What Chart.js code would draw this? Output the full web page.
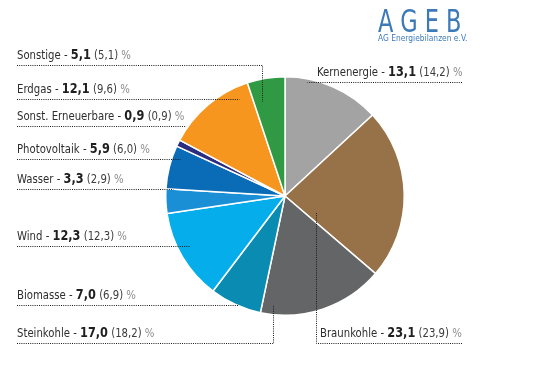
<!DOCTYPE html>
<html>
<head>
<meta charset="utf-8">
<script src="https://cdn.jsdelivr.net/npm/chart.js@4"></script>
<style>
  html, body { margin: 0; padding: 0; background: #fff; }
  #wrap { position: relative; width: 542px; height: 371px; }
</style>
</head>
<body>
<div id="wrap"><canvas id="mainChart" width="542" height="371"></canvas></div>
<script>
// Energieträger, im Uhrzeigersinn ab 12 Uhr
const categories = ['Kernenergie', 'Braunkohle', 'Steinkohle', 'Biomasse', 'Wind',
    'Wasser', 'Photovoltaik', 'Sonst. Erneuerbare', 'Erdgas', 'Sonstige']
const shares = [13.1, 23.1, 17.0, 7.0, 12.3, 3.3, 5.9, 0.9, 12.1, 5.1]
const sharesPrev = [14.2, 23.9, 18.2, 6.9, 12.3, 2.9, 6.0, 0.9, 9.6, 5.1]
const sliceColors = ['#a3a3a4', '#977249', '#646566', '#0a8bb1', '#05aeea',
    '#1a8fd6', '#0a6cb6', '#2b2e80', '#f6961f', '#2f9a43']

// Beschriftungen: x des Textes, y der gepunkteten Linie, Ende der Linie
const labelLayout = {
    'Sonstige':           { x: 17,  y: 65,  toX: 262, toY: 102 },
    'Erdgas':             { x: 17,  y: 99,  toX: 239 },
    'Sonst. Erneuerbare': { x: 17,  y: 126, toX: 186 },
    'Photovoltaik':       { x: 17,  y: 159, toX: 180 },
    'Wasser':             { x: 17,  y: 189, toX: 173 },
    'Wind':               { x: 17,  y: 246, toX: 190 },
    'Biomasse':           { x: 17,  y: 305, toX: 238 },
    'Steinkohle':         { x: 17,  y: 343, toX: 273, toY: 305 },
    'Kernenergie':        { x: 317, y: 82,  fromX: 307, right: 462 },
    'Braunkohle':         { x: 320, y: 343, fromX: 316, right: 462, toY: 213 },
}

const fmt = v => v.toFixed(1).replace('.', ',')
const FONT = '"Liberation Sans Narrow", "DejaVu Sans Condensed", "Arial Narrow", sans-serif'
const SQUEEZE = 0.9

// schmal gestauchter Text, gibt die Breite zurück
function narrowText(ctx, text, x, y, sx) {
    ctx.save()
    ctx.translate(x, y)
    ctx.scale(sx, 1)
    ctx.fillText(text, 0, 0)
    ctx.restore()
    return ctx.measureText(text).width * sx
}

const labelPlugin = {
    id: 'pieLabels',
    afterDraw(chart) {
        const ctx = chart.ctx
        ctx.save()
        ctx.textBaseline = 'alphabetic'
        categories.forEach((name, i) => {
            const l = labelLayout[name]
            const baseY = l.y - 6
            let x = l.x
            const parts = [
                { t: name + ' - ', f: '12.5px ' + FONT, c: '#2e2e2e' },
                { t: fmt(shares[i]), f: 'bold 14px ' + FONT, c: '#1f1f1f' },
                { t: ' (' + fmt(sharesPrev[i]) + ')', f: '12.5px ' + FONT, c: '#3c3c3c' },
                { t: ' %', f: '12.5px ' + FONT, c: '#8c8c8c' },
            ]
            parts.forEach(p => {
                ctx.font = p.f
                ctx.fillStyle = p.c
                x += narrowText(ctx, p.t, x, baseY, SQUEEZE)
            })

            // gepunktete Führungslinie
            ctx.strokeStyle = '#1a1a1a'
            ctx.lineWidth = 1
            ctx.setLineDash([1, 1.2])
            ctx.beginPath()
            if (l.right) {
                ctx.moveTo(l.right, l.y + 0.5)
                ctx.lineTo(l.fromX + 0.5, l.y + 0.5)
                if (l.toY) ctx.lineTo(l.fromX + 0.5, l.toY)
            } else {
                ctx.moveTo(l.x, l.y + 0.5)
                ctx.lineTo(l.toX + 0.5, l.y + 0.5)
                if (l.toY) ctx.lineTo(l.toX + 0.5, l.toY)
            }
            ctx.stroke()
        })
        ctx.setLineDash([])

        // Logo
        ctx.fillStyle = '#3d7ab8'
        ctx.font = '32px ' + FONT
        let lx = 378
        for (const ch of 'AGEB') {
            lx += narrowText(ctx, ch, lx, 32, 0.78) + 7
        }
        ctx.font = '9.5px ' + FONT
        narrowText(ctx, 'AG Energiebilanzen e.V.', 378, 41, 0.88)
        ctx.restore()
    }
}

new Chart(document.getElementById('mainChart'), {
    type: 'pie',
    data: {
        labels: categories,
        datasets: [{
            data: shares,
            backgroundColor: sliceColors,
            borderColor: '#ffffff',
            borderWidth: 1.5,
        }]
    },
    options: {
        responsive: false,
        animation: false,
        layout: {
            padding: { left: 165, right: 137, top: 76, bottom: 55 }
        },
        plugins: {
            legend: { display: false },
            tooltip: { enabled: false },
        }
    },
    plugins: [labelPlugin]
})
</script>
</body>
</html>
